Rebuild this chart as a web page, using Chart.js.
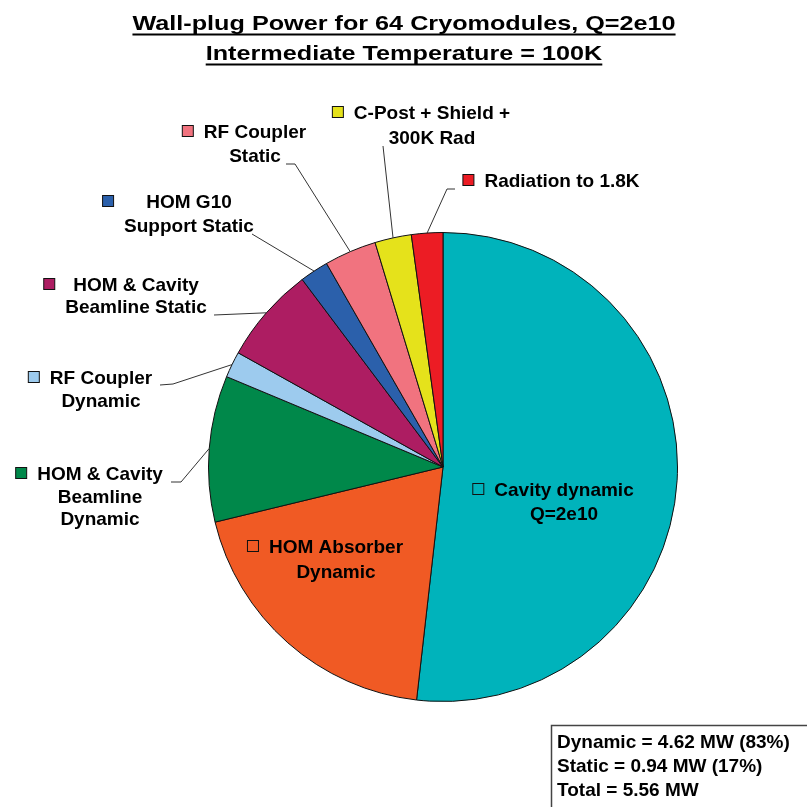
<!DOCTYPE html>
<html>
<head>
<meta charset="utf-8">
<script src="https://cdn.jsdelivr.net/npm/chart.js@4.4.1/dist/chart.umd.min.js"></script>
<style>
  body { margin: 0; background: #fff; }
  #wrap { width: 807px; height: 807px; }
</style>
</head>
<body>
<div id="wrap"><canvas id="wallPlugPie" width="807" height="807"></canvas></div>
<script>
const titleLines = ['Wall-plug Power for 64 Cryomodules, Q=2e10', 'Intermediate Temperature = 100K'];

const categories = [
    ['Cavity dynamic', 'Q=2e10'],
    ['HOM Absorber', 'Dynamic'],
    ['HOM & Cavity', 'Beamline', 'Dynamic'],
    ['RF Coupler', 'Dynamic'],
    ['HOM & Cavity', 'Beamline Static'],
    ['HOM G10', 'Support Static'],
    ['RF Coupler', 'Static'],
    ['C-Post + Shield +', '300K Rad'],
    ['Radiation to 1.8K']
];
const powerMW = [2.88, 1.08, 0.56, 0.10, 0.37, 0.11, 0.20, 0.14, 0.12];
const loadType = ['dynamic', 'dynamic', 'dynamic', 'dynamic', 'static', 'static', 'static', 'static', 'static'];
const sliceColors = ['#00B3BB', '#F05A24', '#00884A', '#9DCBEE', '#AD1D62', '#2B60AB', '#F1737F', '#E5E21B', '#EC1C24'];

// where each label block sits (centre x, first line y) and the bends of its leader line
const labelSpots = [
    { x: 564, y: 491, lh: 23.5 },
    { x: 336, y: 548, lh: 25 },
    { x: 100, y: 475, lh: 22.5, line: [[181, 482], [171, 482]] },
    { x: 101, y: 379, lh: 22.7, line: [[173, 384], [160, 385]] },
    { x: 136, y: 286, lh: 22, line: [[214, 315]] },
    { x: 189, y: 203, lh: 23.7, line: [[252, 234]] },
    { x: 255, y: 133, lh: 23.7, line: [[295, 164], [286, 164]] },
    { x: 432, y: 114, lh: 24.3, line: [[383, 146]] },
    { x: 562, y: 182, lh: 23, line: [[447, 189], [455, 189]] }
];

const bodyFont = 'bold 19px "Liberation Sans", Arial, sans-serif';

const pieLabels = {
    id: 'pieLabels',
    afterDraw(chart) {
        const ctx = chart.ctx;
        const meta = chart.getDatasetMeta(0);
        ctx.save();

        // title, stretched a bit and underlined
        ctx.fillStyle = '#000';
        ctx.font = 'bold 21px "Liberation Sans", Arial, sans-serif';
        ctx.textAlign = 'center';
        ctx.textBaseline = 'alphabetic';
        titleLines.forEach((t, i) => {
            const y = 30 + i * 30;
            const w = ctx.measureText(t).width * 1.2;
            ctx.save();
            ctx.translate(404, y);
            ctx.scale(1.2, 1);
            ctx.fillText(t, 0, 0);
            ctx.restore();
            ctx.fillRect(404 - w / 2, y + 3.5, w, 2);
        });

        // leader lines
        ctx.strokeStyle = '#333';
        ctx.lineWidth = 1;
        meta.data.forEach((arc, i) => {
            const spot = labelSpots[i];
            if (!spot.line) return;
            const p = arc.getProps(['x', 'y', 'startAngle', 'endAngle', 'outerRadius'], true);
            const mid = (p.startAngle + p.endAngle) / 2;
            ctx.beginPath();
            ctx.moveTo(p.x + Math.cos(mid) * p.outerRadius, p.y + Math.sin(mid) * p.outerRadius);
            spot.line.forEach(pt => ctx.lineTo(pt[0], pt[1]));
            ctx.stroke();
        });

        // label text with key squares
        ctx.font = bodyFont;
        ctx.textBaseline = 'middle';
        categories.forEach((lines, i) => {
            const spot = labelSpots[i];
            const widest = Math.max(...lines.map(l => ctx.measureText(l).width));
            const left = spot.x - widest / 2;
            ctx.fillStyle = sliceColors[i];
            ctx.fillRect(left - 21.5, spot.y - 7.5, 11, 11);
            ctx.strokeStyle = '#111';
            ctx.strokeRect(left - 21.5, spot.y - 7.5, 11, 11);
            ctx.fillStyle = '#000';
            ctx.textAlign = 'center';
            lines.forEach((l, j) => ctx.fillText(l, spot.x, spot.y + j * spot.lh));
        });

        // summary box
        const total = powerMW.reduce((a, b) => a + b, 0);
        const dyn = powerMW.filter((v, i) => loadType[i] === 'dynamic').reduce((a, b) => a + b, 0);
        const stat = total - dyn;
        const summary = [
            `Dynamic = ${dyn.toFixed(2)} MW (${Math.round(dyn / total * 100)}%)`,
            `Static = ${stat.toFixed(2)} MW (${Math.round(stat / total * 100)}%)`,
            `Total = ${total.toFixed(2)} MW`
        ];
        ctx.strokeStyle = '#444';
        ctx.lineWidth = 1.5;
        ctx.strokeRect(551.5, 725.5, 300, 120);
        ctx.textAlign = 'left';
        summary.forEach((s, j) => ctx.fillText(s, 557, 743 + j * 24));

        ctx.restore();
    }
};

new Chart(document.getElementById('wallPlugPie').getContext('2d'), {
    type: 'pie',
    data: {
        labels: categories,
        datasets: [{
            data: powerMW,
            backgroundColor: sliceColors,
            borderColor: '#111',
            borderWidth: 1
        }]
    },
    options: {
        responsive: false,
        animation: false,
        devicePixelRatio: 1,
        layout: { padding: { left: 208, top: 232, right: 129, bottom: 105 } },
        plugins: {
            legend: { display: false },
            title: { display: false },
            tooltip: { enabled: false }
        }
    },
    plugins: [pieLabels]
});
</script>
</body>
</html>
